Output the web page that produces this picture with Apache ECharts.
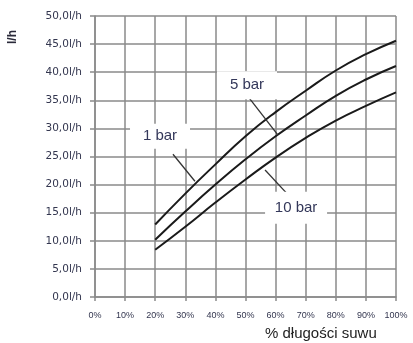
<!DOCTYPE html>
<html>
<head>
<meta charset="utf-8">
<script src="https://cdn.jsdelivr.net/npm/echarts@6/dist/echarts.min.js"></script>
<style>
  html, body { margin: 0; padding: 0; background: #fff; }
  #chart { width: 413px; height: 343px; }
</style>
</head>
<body>
<div id="chart"></div>
<script>
// Stroke length (% of full stroke) at which flow was measured
const strokePct = [20, 30, 40, 50, 60, 70, 80, 90, 100];
// Flow in l/h for each supply pressure
const flow1bar  = [12.9, 18.4, 23.6, 28.6, 32.9, 36.7, 40.3, 43.2, 45.6];
const flow5bar  = [10.2, 15.2, 20.0, 24.5, 28.6, 32.3, 35.8, 38.7, 41.1];
const flow10bar = [8.4, 12.5, 16.8, 20.9, 24.8, 28.3, 31.4, 34.0, 36.4];

// Curve captions: text, caption centre and pointer line (stroke %, l/h)
const captionText  = ['1 bar', '5 bar', '10 bar'];
const captionAt    = [[21.6, 28.6], [50.5, 37.7], [66.8, 15.9]];
const pointerStart = [[25.9, 25.4], [50.8, 35.7], [63.8, 18.4]];
const pointerEnd   = [[33.2, 20.6], [60.8, 28.8], [56.5, 22.6]];
const captionBox   = [[60, 25], [60, 28], [62, 32]];

const axisName = 'l/h';
const xTitle = '% długości suwu';

const gridColor = '#8a8a8a';
const labelColor = '#33364f';
const condensed = '"Liberation Sans Narrow", "Liberation Sans", Arial, sans-serif';

function pairs(xs, ys) { return xs.map((x, i) => [x, ys[i]]); }

function caption(i) {
  return {
    symbol: 'rect',
    symbolSize: captionBox[i],
    itemStyle: { color: '#fff' },
    label: {
      show: true, position: 'inside',
      formatter: captionText[i],
      fontFamily: condensed, fontSize: 15, color: '#34385a'
    },
    data: [{ coord: captionAt[i] }]
  };
}

function pointer(i) {
  return {
    silent: true, symbol: ['none', 'none'],
    lineStyle: { color: '#333', width: 1.3, type: 'solid' },
    label: { show: false },
    data: [[{ coord: pointerStart[i] }, { coord: pointerEnd[i] }]]
  };
}

const flows = [flow1bar, flow5bar, flow10bar];

const chart = echarts.init(document.getElementById('chart'), null, { renderer: 'canvas' });
chart.setOption({
  animation: false,
  backgroundColor: '#fff',
  grid: { left: 95, right: 17, top: 16, bottom: 46, containLabel: false },
  xAxis: {
    type: 'value', min: 0, max: 100, interval: 10,
    axisLine: { show: true, lineStyle: { color: gridColor, width: 1.5 } },
    axisTick: { show: true, length: 4, lineStyle: { color: gridColor, width: 1.5 } },
    splitLine: { show: true, lineStyle: { color: gridColor, width: 1.5 } },
    axisLabel: {
      formatter: '{value}%', fontSize: 9, color: labelColor, margin: 14,
      fontFamily: condensed
    }
  },
  yAxis: {
    type: 'value', min: 0, max: 50, interval: 5,
    axisLine: { show: true, lineStyle: { color: gridColor, width: 1.5 } },
    axisTick: { show: true, length: 5, lineStyle: { color: gridColor, width: 1.5 } },
    splitLine: { show: true, lineStyle: { color: gridColor, width: 1.5 } },
    axisLabel: {
      formatter: v => v.toFixed(1).replace('.', ',') + 'l/h',
      fontSize: 10.5, color: labelColor, margin: 13,
      fontFamily: '"DejaVu Sans", Verdana, sans-serif'
    }
  },
  graphic: [
    {
      type: 'group', x: 7, y: 44, rotation: Math.PI / 2,
      children: [{
        type: 'text', x: 0, y: 0,
        style: { text: axisName, font: 'bold 12px "Liberation Sans", Arial, sans-serif', fill: '#2a2a3a' }
      }]
    },
    {
      type: 'text', x: 265, y: 326,
      style: { text: xTitle, font: '15px "Liberation Sans", Arial, sans-serif', fill: '#222' }
    }
  ],
  series: flows.map((f, i) => ({
    type: 'line', smooth: true, symbol: 'none',
    data: pairs(strokePct, f),
    lineStyle: { color: '#1a1a1a', width: 2 },
    markLine: pointer(i),
    markPoint: caption(i)
  }))
});
</script>
</body>
</html>
